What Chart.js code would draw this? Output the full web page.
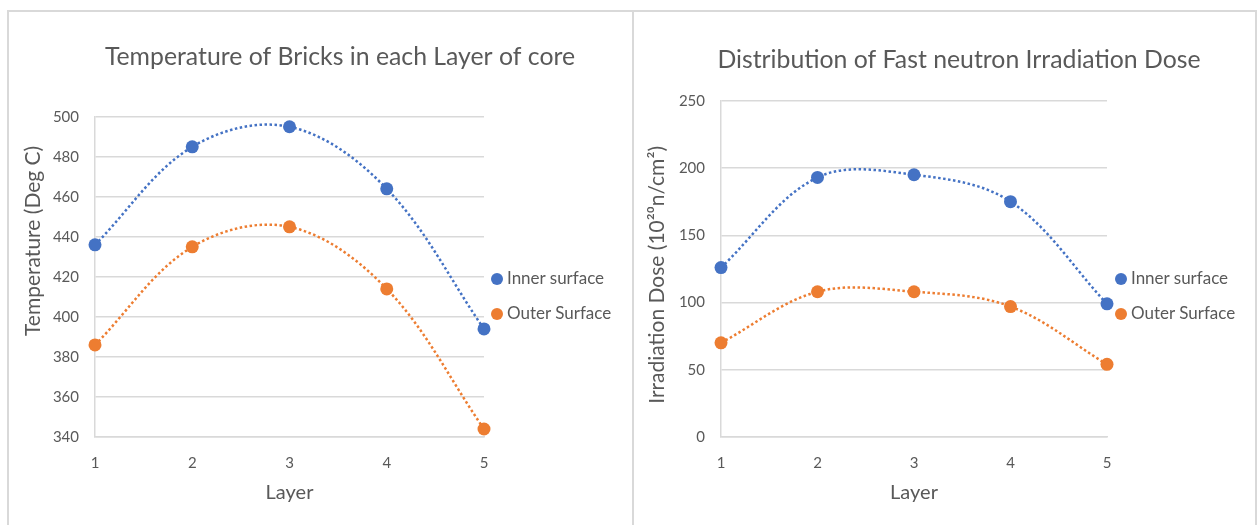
<!DOCTYPE html>
<html>
<head>
<meta charset="utf-8">
<script src="https://cdn.jsdelivr.net/npm/chart.js@4.4.1/dist/chart.umd.min.js"></script>
<style>
  body { margin: 0; background: #fff; font-family: Lato, sans-serif; overflow: hidden; }
  .frame { position: absolute; left: 7px; top: 10px; width: 1246px; height: 530px; border: 2px solid #d9d9d9; }
  .split { position: absolute; left: 632px; top: 10px; width: 2px; height: 520px; background: #d9d9d9; }
  canvas { position: absolute; }
  .legend { position: absolute; font-size: 17px; color: #595959; }
  .legend div { height: 35px; line-height: 20px; white-space: nowrap; }
  .legend span { display: inline-block; width: 12px; height: 12px; border-radius: 50%; margin-right: 4px; vertical-align: -1px; }
</style>
</head>
<body>
<div class="frame"></div>
<div class="split"></div>
<canvas id="tempChart" width="664" height="514" style="left:8px; top:11px"></canvas>
<canvas id="doseChart" width="650" height="514" style="left:634px; top:11px"></canvas>
<div class="legend" style="left:491px; top:268px">
  <div><span style="background:#4472c4"></span>Inner surface</div>
  <div><span style="background:#ed7d31"></span>Outer Surface</div>
</div>
<div class="legend" style="left:1115px; top:268px">
  <div><span style="background:#4472c4"></span>Inner surface</div>
  <div><span style="background:#ed7d31"></span>Outer Surface</div>
</div>
<script>
const layers = [1, 2, 3, 4, 5];
const seriesNames = ['Inner surface', 'Outer Surface'];

// brick temperature, deg C
const tempInner = [436, 485, 495, 464, 394];
const tempOuter = [386, 435, 445, 414, 344];
const tempAxis = [340, 500, 20];   // min, max, step

// fast neutron dose, 10^20 n/cm^2
const doseInner = [126, 193, 195, 175, 99];
const doseOuter = [70, 108, 108, 97, 54];
const doseAxis = [0, 250, 50];

const BLUE = '#4472c4';
const ORANGE = '#ed7d31';
const GREY = '#595959';
const FONT = 'Lato';

// vertical axis title, drawn by hand so it can sit off the plot centre
const yTitlePlugin = {
  id: 'yTitle',
  afterDraw(chart, args, opts) {
    const { ctx, chartArea } = chart;
    ctx.save();
    ctx.font = '21px ' + FONT;
    ctx.fillStyle = GREY;
    ctx.textAlign = 'center';
    ctx.textBaseline = 'middle';
    ctx.translate(opts.x, (chartArea.top + chartArea.bottom) / 2 + opts.shift);
    ctx.rotate(-Math.PI / 2);
    ctx.fillText(opts.text, 0, 0);
    ctx.restore();
  }
};

function series(label, ys, color) {
  return {
    label: label,
    data: layers.map((x, i) => ({ x: x, y: ys[i] })),
    showLine: true,
    tension: 0.35,
    borderColor: color,
    backgroundColor: color,
    borderWidth: 2.5,
    borderDash: [2.5, 2.5],
    pointRadius: 6.5,
    pointHoverRadius: 6.5,
    pointBorderWidth: 0,
    clip: false
  };
}

// rightGap: empty strip kept right of the plot for the legend
function makeChart(id, title, titlePad, yTitle, axis, rightGap, inner, outer) {
  return new Chart(document.getElementById(id), {
    type: 'scatter',
    data: { datasets: [series(seriesNames[0], inner, BLUE), series(seriesNames[1], outer, ORANGE)] },
    plugins: [yTitlePlugin],
    options: {
      responsive: false,
      animation: false,
      layout: { padding: 0 },
      plugins: {
        legend: { display: false },
        tooltip: { enabled: false },
        title: {
          display: true,
          text: title,
          color: GREY,
          font: { family: FONT, size: 24.8, weight: 'normal' },
          padding: titlePad
        },
        yTitle: yTitle
      },
      scales: {
        x: {
          type: 'linear',
          min: layers[0],
          max: layers[layers.length - 1],
          afterFit: s => { s.height = 88; },
          grid: { display: false, drawTicks: false },
          border: { display: true, color: '#d9d9d9', width: 1.5 },
          ticks: { stepSize: 1, padding: 17, color: GREY, font: { family: FONT, size: 15 } },
          title: { display: true, text: 'Layer', color: GREY, font: { family: FONT, size: 20 }, padding: { top: 0, bottom: 20 } }
        },
        y: {
          min: axis[0],
          max: axis[1],
          afterFit: s => { s.width = 87; },
          grid: { color: '#d9d9d9', lineWidth: 1.5, drawTicks: false },
          border: { display: true, color: '#d9d9d9', width: 1.5 },
          ticks: { stepSize: axis[2], padding: 16, color: GREY, font: { family: FONT, size: 15 } }
        },
        gap: {
          type: 'linear',
          position: 'right',
          afterFit: s => { s.width = rightGap; },
          grid: { display: false, drawTicks: false },
          border: { display: false },
          ticks: { display: false }
        }
      }
    }
  });
}

makeChart('tempChart', 'Temperature of Bricks in each Layer of core', { top: 31, bottom: 45 },
  { text: 'Temperature (Deg C)', x: 25, shift: -36 }, tempAxis, 188, tempInner, tempOuter);

makeChart('doseChart', 'Distribution of Fast neutron Irradiation Dose', { top: 34, bottom: 26 },
  { text: 'Irradiation Dose (10²⁰n/cm²)', x: 23, shift: 6 }, doseAxis, 177, doseInner, doseOuter);
</script>
</body>
</html>
